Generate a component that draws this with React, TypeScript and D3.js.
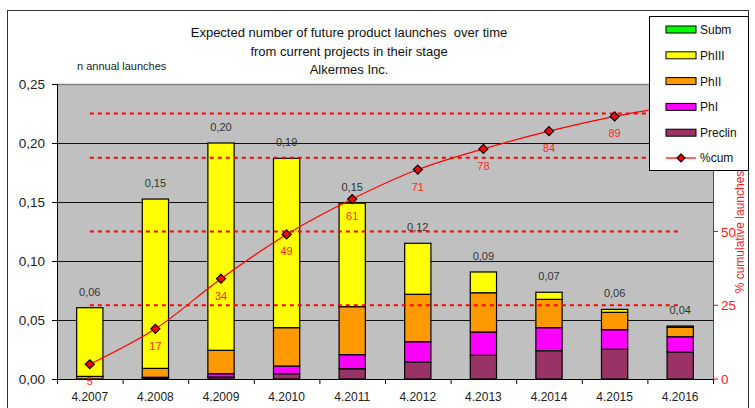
import React from "react";
import * as d3 from "d3";

const categories = ["4.2007", "4.2008", "4.2009", "4.2010", "4.2011", "4.2012", "4.2013", "4.2014", "4.2015", "4.2016"];
const preclin = [0, 0.001, 0.0017, 0.0045, 0.0087, 0.0144, 0.0201, 0.024, 0.0252, 0.0229];
const phI = [0, 0.0005, 0.0028, 0.0065, 0.0119, 0.0172, 0.0197, 0.0195, 0.0166, 0.0129];
const phII = [0.0022, 0.0075, 0.0198, 0.0325, 0.0407, 0.0402, 0.0333, 0.024, 0.0147, 0.008];
const phIII = [0.0582, 0.1435, 0.1757, 0.1435, 0.0877, 0.0432, 0.0176, 0.006, 0.0025, 0.0011];
const subm = [0, 0, 0, 0, 0, 0, 0, 0, 0, 0];
const cumPct = [5, 17, 34, 49, 61, 71, 78, 84, 89, 93];
const leftTicks = [0, 0.05, 0.1, 0.15, 0.2, 0.25];
const rightTicks = [0, 25, 50, 75, 100];
const refLines = [25, 50, 75, 90];
const titleLines = ["Expected number of future product launches\u00a0 over time", "from current projects in their stage", "Alkermes Inc."];

const seriesKeys = ["Preclin", "PhI", "PhII", "PhIII", "Subm"];
const seriesData: Record<string, number[]> = { Preclin: preclin, PhI: phI, PhII: phII, PhIII: phIII, Subm: subm };
const colors: Record<string, string> = { Preclin: "#993366", PhI: "#ff00ff", PhII: "#ff9900", PhIII: "#ffff00", Subm: "#00ff00" };
const legendOrder = ["Subm", "PhIII", "PhII", "PhI", "Preclin"];

const W = 755, H = 408;
const L = 57, R = 713, T = 84, B = 379;
const LEG = { x: 649.5, y: 16.5, w: 99, h: 154 };
const FONT = "Liberation Sans, Arial, sans-serif";

export default function App() {
  const table = categories.map((c, i) => {
    const row: any = { cat: c };
    seriesKeys.forEach((k) => (row[k] = seriesData[k][i]));
    return row;
  });
  const stacked = d3.stack<any>().keys(seriesKeys)(table);
  const totals = table.map((r) => seriesKeys.reduce((s, k) => s + r[k], 0));

  const x = d3.scaleBand<string>().domain(categories).range([L, R]).paddingInner(0.6).paddingOuter(0.3);
  const y = d3.scaleLinear().domain([0, 0.25]).range([B, T]);
  const y2 = d3.scaleLinear().domain([0, 100]).range([B, T]);
  const cx = (c: string) => (x(c) as number) + x.bandwidth() / 2;
  const step = x.step();

  const line = d3
    .line<number>()
    .x((_, i) => cx(categories[i]))
    .y((d) => y2(d))
    .curve(d3.curveCatmullRom.alpha(0.5));

  const fmt = (v: number) => d3.format(".2f")(v).replace(".", ",");
  const diamond = (px: number, py: number, s = 4.5) => `M${px},${py - s}L${px + s},${py}L${px},${py + s}L${px - s},${py}Z`;

  return (
    <svg width={W} height={H} style={{ position: "absolute", left: 0, top: 0, background: "#fff" }} fontFamily={FONT}>
      <rect x={7.5} y={10.5} width={741} height={400} fill="#fff" stroke="#333" strokeWidth={1} />
      {titleLines.map((t, i) => (
        <text key={i} x={349} y={37 + i * 18.5} textAnchor="middle" fontSize={13} fill="#111">
          {t}
        </text>
      ))}
      <text x={77} y={70} fontSize={11} fill="#222">n annual launches</text>

      <rect x={L} y={T} width={R - L} height={B - T} fill="#c0c0c0" />
      <line x1={L} x2={R} y1={T + 0.5} y2={T + 0.5} stroke="#808080" strokeWidth={1.5} />
      {leftTicks.slice(1, -1).map((t) => (
        <line key={t} x1={L} x2={R} y1={Math.round(y(t)) + 0.5} y2={Math.round(y(t)) + 0.5} stroke="#111" strokeWidth={1} />
      ))}

      {stacked.map((s) => (
        <g key={s.key}>
          {s.map((d, i) =>
            d[1] - d[0] > 0 ? (
              <rect
                key={i}
                x={x(categories[i])}
                y={y(d[1])}
                width={x.bandwidth()}
                height={y(d[0]) - y(d[1])}
                fill={colors[s.key]}
                stroke="#000"
                strokeWidth={1.2}
              />
            ) : null
          )}
        </g>
      ))}

      {totals.map((t, i) => (
        <text key={i} x={cx(categories[i])} y={y(t) - 12} textAnchor="middle" fontSize={11} fill="#333">
          {fmt(t)}
        </text>
      ))}

      {refLines.map((r) => (
        <line
          key={r}
          x1={cx(categories[0])}
          x2={cx(categories[categories.length - 1])}
          y1={y2(r)}
          y2={y2(r)}
          stroke="#ff0000"
          strokeWidth={2}
          strokeDasharray="4,4"
        />
      ))}

      <path d={line(cumPct) || ""} fill="none" stroke="#ff0000" strokeWidth={1.2} />
      {cumPct.map((p, i) => (
        <g key={i}>
          <path d={diamond(cx(categories[i]), y2(p))} fill="#ff0000" stroke="#000" strokeWidth={1.2} />
          {!(cx(categories[i]) > LEG.x && y2(p) + 21 < LEG.y + LEG.h + 8) && (
            <text x={cx(categories[i])} y={y2(p) + 21} textAnchor="middle" fontSize={11} fill="#ff2a1a">
              {p}
            </text>
          )}
        </g>
      ))}

      {/* left axis */}
      <line x1={L + 0.5} x2={L + 0.5} y1={T} y2={B} stroke="#000" strokeWidth={1} />
      {leftTicks.map((t) => (
        <g key={t}>
          <line x1={L - 5} x2={L} y1={Math.round(y(t)) + 0.5} y2={Math.round(y(t)) + 0.5} stroke="#000" />
          <text x={45} y={y(t) + 5} textAnchor="end" fontSize={13.5} fill="#222">
            {fmt(t)}
          </text>
        </g>
      ))}

      {/* bottom axis */}
      <line x1={L} x2={R} y1={B + 0.5} y2={B + 0.5} stroke="#000" strokeWidth={1} />
      {d3.range(categories.length + 1).map((i) => (
        <line key={i} x1={L + i * step + 0.5} x2={L + i * step + 0.5} y1={B} y2={B + 5} stroke="#000" />
      ))}
      {categories.map((c) => (
        <text key={c} x={cx(c)} y={401} textAnchor="middle" fontSize={12} fill="#222">
          {c}
        </text>
      ))}

      {/* right axis */}
      <line x1={R + 0.5} x2={R + 0.5} y1={T} y2={B} stroke="#ff0000" strokeWidth={1} />
      {rightTicks.map((t) => (
        <g key={t}>
          <line x1={R} x2={R + 5} y1={y2(t)} y2={y2(t)} stroke="#ff0000" />
          {y2(t) > LEG.y + LEG.h + 8 && (
            <text x={721} y={y2(t) + 5} fontSize={13.5} fill="#ff2020">
              {t}
            </text>
          )}
        </g>
      ))}
      <text
        transform={`translate(744,232) rotate(-90)`}
        textAnchor="middle"
        fontSize={12}
        fill="#ff2020"
      >
        % cumulative launches
      </text>

      {/* legend */}
      <rect x={LEG.x} y={LEG.y} width={LEG.w} height={LEG.h} fill="#fff" stroke="#000" strokeWidth={1} />
      {legendOrder.map((k, i) => (
        <g key={k}>
          <rect x={666} y={26 + i * 25.8} width={30} height={7} fill={colors[k]} stroke="#000" strokeWidth={1} />
          <text x={700} y={34 + i * 25.8} fontSize={12} fill="#111">
            {k}
          </text>
        </g>
      ))}
      <line x1={666} x2={696} y1={158} y2={158} stroke="#ff0000" strokeWidth={1.2} />
      <path d={diamond(681, 158, 4)} fill="#ff0000" stroke="#000" strokeWidth={1.2} />
      <text x={700} y={162} fontSize={12} fill="#111">%cum</text>
    </svg>
  );
}
